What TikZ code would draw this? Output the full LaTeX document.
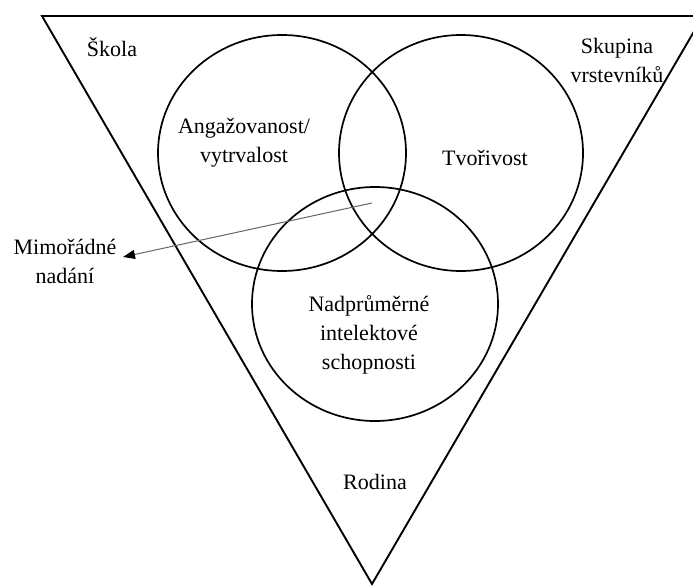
\documentclass[tikz,border=0pt]{standalone}
\usepackage{fontspec}
\setmainfont{Liberation Serif}
\usetikzlibrary{arrows.meta}
\begin{document}
\begin{tikzpicture}[x=1pt,y=-1pt,
  lbl/.style={inner sep=0pt,align=center,font=\fontsize{22}{29}\selectfont},
  ring/.style={draw=black,line width=1.7pt},
  frame/.style={draw=black,line width=1.9pt,line join=miter},
  pointer/.style={draw=black!60,line width=1pt,-{Triangle[length=12pt,width=9pt,fill=black,color=black]}}]
\useasboundingbox (0,0) rectangle (693,586);
\fill[white] (0,0) rectangle (693,586);
\begin{scope}
\clip (0,0) rectangle (693,586);
\draw[frame] (42,16) -- (703,16) -- (372,584) -- cycle;
\end{scope}
\draw[ring] (282,153) ellipse [x radius=124, y radius=118];
\draw[ring] (461,153) ellipse [x radius=122, y radius=118];
\draw[ring] (375,304) ellipse [x radius=123, y radius=117];
\node[lbl] (skola) at (112,47) {Škola};
\node[lbl] (skupina) at (617,60) {Skupina\\vrstevníků};
\node[lbl] (ang) at (244,143) {Angažovanost/\\vytrvalost};
\node[lbl] (tvor) at (485,158) {Tvořivost};
\node[lbl] (nadp) at (369,335) {Nadprůměrné\\intelektové\\schopnosti};
\node[lbl] (rod) at (375,482) {Rodina};
\node[lbl] (mimo) at (65,261) {Mimořádné\\nadání};
\coordinate (ps) at (372,203);
\coordinate (pe) at (123,257);
\draw[pointer] (ps) -- (pe);
\end{tikzpicture}
\end{document}
